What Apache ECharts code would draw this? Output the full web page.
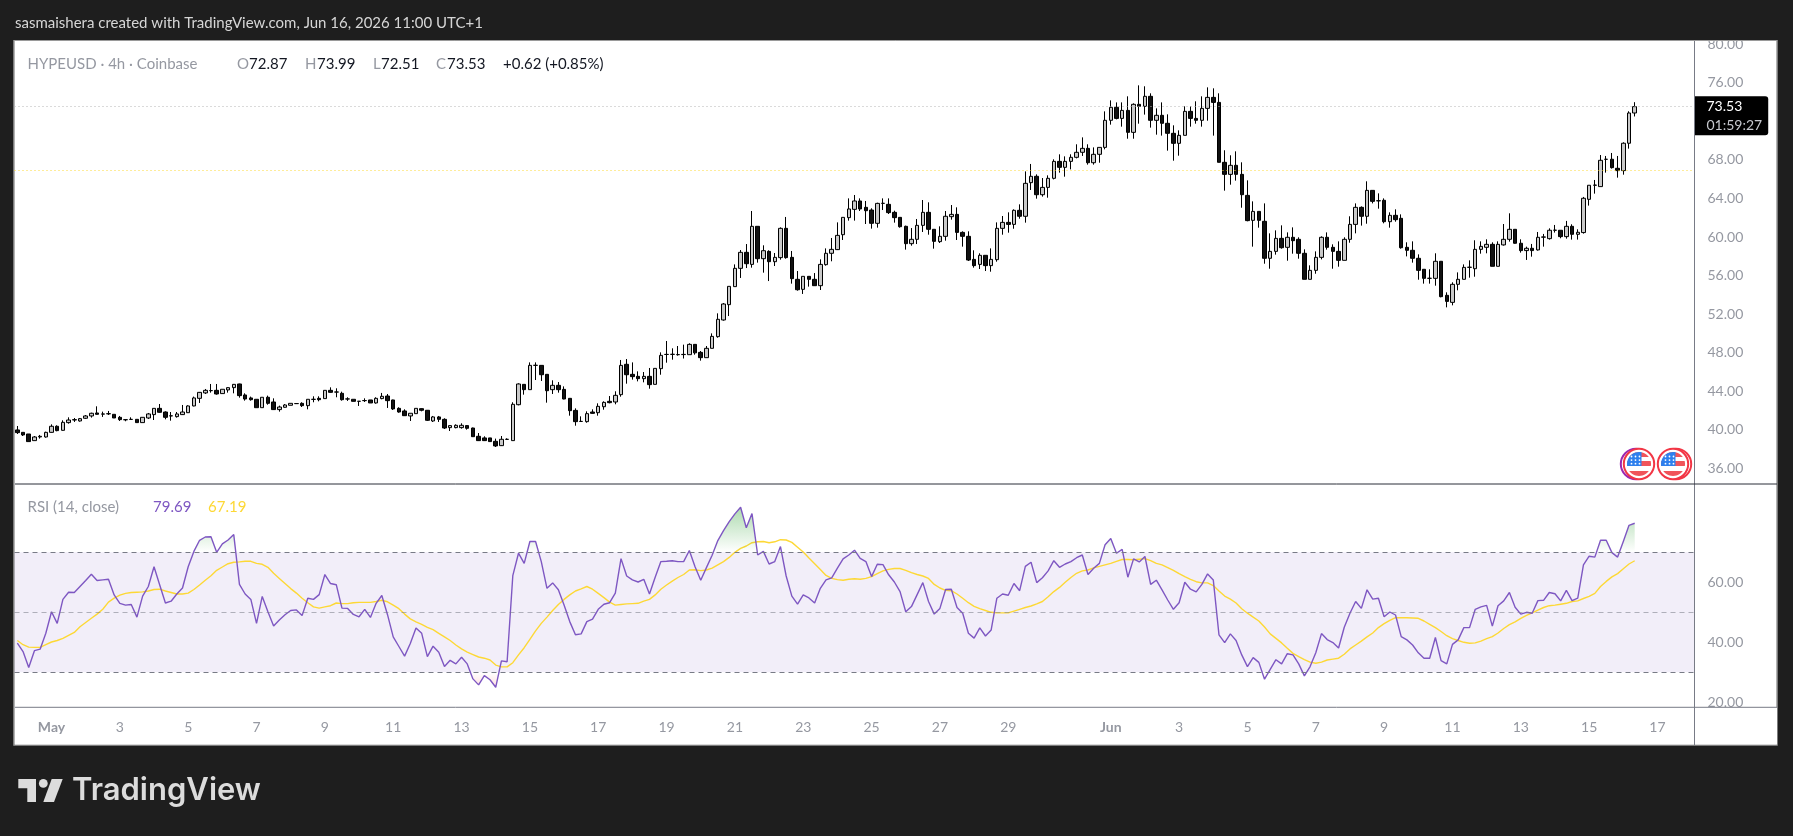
<!DOCTYPE html>
<html>
<head>
<meta charset="utf-8">
<title>HYPEUSD 4h</title>
<style>
html,body{margin:0;padding:0;background:#1e1e1e;}
#chart{width:1793px;height:836px;}
</style>
<script src="https://cdn.jsdelivr.net/npm/echarts@6/dist/echarts.min.js"></script>
</head>
<body>
<div id="chart"></div>
<script>
// HYPEUSD 4h candles, one entry per bar, oldest first.
const opens = [39.98,39.73,39.56,38.87,39.25,39.25,39.73,40.36,39.94,40.74,41.01,40.91,41.19,41.43,41.74,41.62,41.67,41.60,41.29,41.05,41.07,41.08,40.74,41.22,41.57,42.22,41.84,41.43,41.36,41.57,41.77,42.47,43.26,43.82,44.05,44.09,43.75,44.13,44.37,44.75,43.61,43.30,43.16,42.29,43.37,42.88,42.09,42.33,42.54,42.71,42.74,42.50,43.15,43.26,43.23,44.09,43.91,43.78,43.19,43.16,42.95,43.02,43.09,42.78,43.23,43.50,43.09,42.22,41.95,41.43,41.67,42.19,42.02,40.91,41.33,41.08,40.22,40.22,40.22,40.43,40.18,39.32,39.15,39.15,38.80,38.35,39.00,38.87,42.60,44.71,44.16,46.68,46.68,45.75,44.16,44.61,44.19,43.26,42.01,40.86,40.84,41.84,41.77,42.39,42.95,42.88,43.64,46.79,45.75,45.54,45.30,45.54,44.71,46.34,47.81,47.82,47.80,47.80,47.79,48.86,48.03,47.48,48.45,49.66,51.39,52.98,54.85,56.75,58.41,57.16,61.11,57.75,58.51,57.44,57.86,60.90,57.89,55.61,54.57,55.92,55.61,54.95,57.13,58.31,58.69,60.24,62.01,62.87,63.74,63.08,62.80,61.42,63.49,63.39,62.56,62.04,61.11,59.31,59.76,61.21,62.56,60.80,59.52,60.07,62.11,62.35,60.48,60.07,57.68,57.16,58.10,57.03,57.65,60.90,61.52,61.31,62.77,62.15,65.64,66.30,64.39,65.15,66.09,67.85,67.23,67.85,68.27,68.79,69.20,67.71,68.58,69.30,72.11,73.46,72.31,73.14,70.86,73.77,73.56,74.60,72.11,72.63,71.80,70.76,69.72,70.55,73.04,72.31,72.11,73.35,74.49,73.97,67.75,66.50,67.44,66.50,64.32,61.73,62.66,61.63,57.79,58.51,59.86,58.93,59.97,59.76,58.31,55.61,56.54,57.89,59.97,58.93,58.51,57.58,59.76,61.31,63.08,62.15,64.84,63.77,63.81,61.59,62.25,61.94,58.93,58.62,57.79,56.65,55.71,55.71,57.48,53.95,53.22,55.09,55.61,56.85,56.71,58.72,58.93,59.24,56.96,59.18,59.76,60.80,59.35,58.59,58.83,58.66,59.98,59.83,60.70,60.70,60.04,61.11,60.28,60.46,63.91,65.37,65.23,68.06,68.07,67.13,66.89,69.73,72.87];
const highs = [40.39,39.73,39.56,39.35,39.46,39.80,40.56,40.46,40.98,41.29,41.22,41.22,41.53,41.77,42.43,41.88,41.95,41.60,41.43,41.08,41.29,41.08,41.29,41.74,42.22,42.67,41.91,41.84,41.84,42.57,42.54,43.44,43.92,44.23,44.75,44.75,44.20,44.40,44.75,44.78,43.78,43.44,43.16,43.37,43.54,43.26,42.50,42.67,42.74,42.72,42.85,43.16,43.47,43.47,44.09,44.40,44.30,43.95,43.37,43.16,42.96,43.26,43.09,43.37,43.82,43.71,43.12,42.33,42.12,41.71,42.22,42.22,42.05,41.43,41.43,41.19,40.46,40.56,40.67,40.49,40.22,39.66,39.32,39.15,39.08,39.35,39.11,42.85,44.82,44.71,46.99,46.99,46.68,45.75,45.13,44.95,44.50,43.26,42.22,41.39,41.91,42.12,42.74,42.95,43.50,43.99,47.24,47.34,46.99,46.06,45.99,46.41,46.37,48.03,49.21,48.45,48.69,48.83,48.97,48.86,48.17,48.69,50.00,52.08,53.15,54.88,57.16,58.65,59.27,62.70,61.11,59.14,58.62,58.34,61.00,62.08,58.55,56.47,55.92,55.92,56.26,57.68,58.82,59.90,61.52,62.04,64.01,64.36,64.01,63.74,62.98,63.56,64.01,64.01,62.73,62.04,61.18,60.93,61.87,63.84,63.60,60.80,61.11,62.70,63.32,63.08,60.59,60.59,58.62,58.31,58.10,58.82,61.52,62.18,62.56,62.87,63.39,66.81,67.58,66.50,66.12,66.40,68.06,68.58,68.37,68.58,69.62,70.34,69.62,69.30,69.30,73.04,74.18,73.97,73.97,74.60,73.87,75.74,75.64,74.91,73.35,73.97,72.73,71.59,71.07,73.56,73.56,74.08,74.60,75.53,75.43,74.91,69.00,68.48,68.89,67.75,65.88,63.70,62.66,63.49,60.38,60.69,61.21,60.48,61.00,59.97,58.72,57.06,58.51,60.07,60.48,59.24,59.55,59.97,62.15,63.49,63.18,65.78,64.84,64.53,64.01,62.56,62.87,62.35,59.45,59.55,58.20,56.65,56.65,58.31,57.48,54.26,55.30,56.33,57.16,57.58,59.66,59.55,59.76,59.45,59.55,61.35,62.46,60.80,59.76,59.00,59.28,60.52,60.32,60.90,61.25,60.70,61.67,61.32,60.80,64.16,65.37,65.92,68.51,68.41,68.72,68.41,69.83,73.05,73.99];
const lows = [39.56,39.35,38.77,38.87,39.08,39.18,39.70,39.84,39.91,40.63,40.81,40.84,41.12,41.26,41.57,41.33,41.53,41.22,40.91,40.88,41.01,40.74,40.74,41.12,41.01,41.77,41.08,40.94,41.26,41.53,41.74,42.43,42.78,43.71,43.85,43.64,43.75,43.85,43.78,43.33,43.02,43.02,42.29,42.29,42.60,42.05,41.88,42.29,42.54,42.69,42.36,42.12,42.85,42.95,43.23,43.85,43.37,43.02,42.99,42.95,42.47,42.88,42.78,42.71,43.16,42.26,42.05,41.77,41.43,40.91,41.67,41.91,40.91,40.81,40.81,40.08,39.87,40.15,40.11,40.01,39.25,38.83,38.83,38.77,38.21,38.32,38.94,38.87,42.53,43.64,44.16,45.16,45.06,42.81,43.71,43.85,43.16,41.46,40.42,40.84,40.73,41.67,41.46,42.08,42.74,42.64,43.43,44.78,45.20,45.02,44.92,44.26,44.71,45.71,46.96,47.27,47.69,47.39,47.79,47.79,47.17,47.48,48.45,49.55,51.32,51.80,54.85,55.75,56.78,56.82,57.34,56.30,55.43,56.99,57.65,57.75,55.16,54.43,54.09,54.85,54.92,54.50,57.03,57.48,58.65,59.69,61.70,61.70,62.70,61.35,60.87,60.97,62.80,62.39,61.49,60.97,58.69,59.10,59.27,60.52,60.24,58.79,59.38,59.62,61.80,59.69,59.00,57.51,56.82,56.68,56.47,56.40,57.44,60.24,60.45,60.86,61.90,61.49,64.88,63.98,64.19,64.08,65.98,66.68,66.26,67.02,68.16,68.41,67.51,67.51,67.71,69.10,71.66,72.21,71.45,70.20,70.20,71.76,72.70,71.35,70.62,70.52,68.96,67.92,68.44,70.55,71.45,71.76,71.45,72.07,70.52,67.75,64.81,65.43,65.85,63.04,61.63,59.00,60.97,57.23,56.71,58.17,58.79,57.54,58.27,57.75,55.61,55.61,56.19,57.68,58.69,56.71,56.92,57.58,59.41,60.38,61.18,61.38,63.49,62.94,61.42,60.97,61.59,58.79,57.99,57.34,55.57,55.16,55.16,54.95,53.74,52.70,52.91,54.47,55.61,55.78,55.88,58.27,58.31,56.96,56.96,59.11,59.52,59.31,58.38,57.62,57.96,58.59,59.00,59.73,60.46,59.87,59.83,59.73,59.73,60.35,63.26,64.50,65.23,66.68,67.10,66.16,66.47,69.17,72.51];
const closes = [39.70,39.46,38.77,39.25,39.32,39.73,40.36,39.91,40.77,41.01,41.05,41.15,41.43,41.71,41.60,41.64,41.65,41.22,41.05,41.03,41.08,40.74,41.29,41.64,42.22,41.81,41.29,41.45,41.64,41.84,42.47,43.30,43.88,44.09,44.07,43.71,44.20,44.37,44.71,43.54,43.19,43.12,42.29,43.37,42.74,42.09,42.36,42.57,42.74,42.72,42.50,43.16,43.16,43.12,44.09,43.88,43.92,43.12,43.20,42.95,42.96,43.03,42.78,43.26,43.47,43.02,42.16,41.84,41.46,41.71,42.22,42.02,40.98,41.33,41.08,40.18,40.43,40.46,40.46,40.15,39.28,38.87,38.87,38.77,38.32,39.01,39.01,42.64,44.75,44.16,46.68,46.69,45.71,44.05,44.61,44.16,43.19,41.98,40.84,40.87,41.67,41.70,42.43,42.84,42.81,43.57,46.68,45.71,45.51,45.30,45.54,44.68,46.37,47.72,47.82,47.83,47.79,47.82,48.86,47.98,47.48,48.45,49.69,51.46,53.05,54.88,56.75,58.41,57.23,61.11,57.75,58.58,57.44,57.89,60.90,57.86,55.68,54.53,55.92,55.61,54.95,57.16,58.31,58.72,60.17,62.04,62.91,63.74,62.91,62.73,61.42,63.49,63.50,62.53,62.01,61.07,59.31,59.76,61.21,62.56,60.80,59.55,60.07,62.15,62.35,60.48,60.07,57.61,57.03,58.10,57.03,57.68,60.90,61.52,61.31,62.77,62.15,65.57,66.30,64.39,65.15,66.09,67.85,67.23,67.85,68.27,68.79,69.20,67.71,68.58,69.30,72.11,73.46,72.31,73.14,70.86,73.77,73.56,74.60,72.11,72.63,71.80,70.76,69.72,70.55,73.04,72.31,72.11,73.35,74.49,73.97,67.75,66.50,67.44,66.50,64.39,61.70,62.66,61.73,57.79,58.51,59.86,58.89,59.97,59.62,58.31,55.61,56.54,57.89,59.97,58.93,58.51,57.58,59.76,61.31,63.08,62.15,64.84,63.70,63.75,61.59,62.25,61.80,58.89,58.62,57.79,56.54,55.71,55.72,57.48,53.81,53.32,55.09,55.61,56.85,56.87,58.72,59.03,59.24,56.96,59.24,59.76,60.80,59.35,58.59,58.83,58.59,59.97,60.01,60.70,60.71,60.04,61.11,60.28,60.49,64.02,65.37,65.39,67.96,68.07,67.20,66.89,69.73,72.87,73.53];

// RSI (14, close) and its moving average, same bars as above.
const rsiValues = [39.7,36.9,31.6,37.2,37.7,43.0,50.2,46.3,54.3,56.7,56.6,58.6,60.6,62.7,60.6,60.8,61.0,55.8,53.0,52.4,52.6,48.4,55.4,58.6,65.2,59.1,53.1,53.7,56.1,58.1,65.2,70.3,74.0,75.1,75.2,70.0,72.8,74.1,75.9,59.3,56.1,54.3,46.3,55.3,50.2,45.4,47.4,49.2,50.6,50.8,48.9,54.7,54.3,55.9,62.6,59.6,59.2,51.4,51.3,49.3,48.5,51.0,48.3,53.0,55.6,49.2,41.8,38.6,35.4,39.6,44.8,43.0,35.2,38.7,36.7,31.9,34.0,32.8,35.0,32.8,27.8,25.8,28.9,27.5,25.0,33.8,33.5,62.2,69.7,66.3,73.6,73.6,66.9,58.0,59.8,57.5,52.4,46.9,42.5,42.8,46.9,47.7,51.0,52.7,53.2,56.4,67.9,62.1,60.8,60.1,61.0,56.1,61.7,66.9,67.0,67.2,66.9,66.9,70.6,65.2,60.7,64.9,69.0,73.9,77.2,80.2,82.8,85.0,78.2,82.9,69.1,70.3,66.1,66.9,71.9,62.1,55.4,52.7,55.8,54.8,53.1,58.0,60.8,61.5,64.7,67.8,69.1,70.7,68.0,66.9,61.9,66.0,65.9,62.5,60.1,56.9,50.2,51.9,55.9,59.9,53.6,49.4,51.3,57.6,57.7,51.6,49.7,43.0,41.4,44.8,42.1,44.1,54.7,56.1,55.7,59.6,57.2,65.3,66.7,59.9,61.5,63.8,67.2,65.0,66.1,66.9,68.2,69.1,62.6,64.7,66.3,72.5,74.6,69.7,71.0,61.7,67.8,66.8,68.6,59.3,60.7,57.5,54.1,51.0,53.2,60.0,57.7,56.8,59.3,62.8,60.8,42.5,39.9,42.8,40.6,35.8,31.9,34.9,33.3,27.7,31.0,34.2,32.8,36.2,35.8,32.8,28.8,31.9,36.5,42.9,40.9,39.9,38.1,45.0,49.7,53.6,51.3,57.5,54.4,54.7,48.5,50.1,49.1,41.9,40.8,39.1,36.5,34.7,34.7,41.6,33.9,32.8,39.3,40.8,44.9,44.9,51.0,51.8,52.3,45.4,52.2,53.8,56.6,51.7,49.4,50.0,49.7,53.9,54.0,56.6,56.2,53.8,57.3,53.9,54.7,65.8,68.7,68.4,74.0,74.0,69.9,68.4,73.6,79.0,79.69];
const rsiMaValues = [40.6,39.2,38.4,38.3,38.3,39.2,40.1,40.6,41.3,42.3,43.3,45.2,46.6,48.0,49.4,51.0,53.4,54.7,55.7,56.3,56.6,56.7,56.8,57.1,57.6,57.7,57.1,56.6,56.1,56.1,56.4,57.6,59.1,60.7,62.2,64.0,65.1,66.2,66.7,66.8,67.0,67.0,66.3,66.0,65.0,63.0,61.3,59.6,57.9,56.4,54.7,53.2,51.8,51.4,51.8,52.2,53.1,52.9,52.9,53.2,53.3,53.3,53.3,53.6,54.0,53.5,52.4,51.2,49.4,47.8,46.8,46.0,45.0,44.2,43.0,41.8,40.6,39.1,37.8,36.7,35.9,35.1,34.7,34.1,32.4,31.8,31.8,33.2,35.8,38.2,41.0,43.8,46.3,48.4,50.6,52.6,54.3,55.8,57.1,57.8,58.6,57.7,56.3,54.9,53.4,52.4,52.6,52.8,52.9,53.0,53.7,54.3,55.8,57.7,59.1,60.4,61.6,62.6,64.1,64.2,63.9,64.1,64.7,65.8,66.9,68.3,70.0,71.3,72.1,73.2,73.5,73.6,73.2,73.5,74.2,74.1,73.3,71.7,70.1,68.1,66.2,64.3,62.3,61.3,60.9,60.7,61.0,61.2,61.0,61.3,61.9,62.9,63.8,64.3,64.6,64.6,64.0,63.2,62.6,62.1,61.3,59.3,58.1,57.3,57.2,56.1,54.7,53.2,52.0,51.2,50.6,50.0,49.8,49.8,49.8,50.4,51.0,51.6,52.1,52.8,53.6,55.2,56.9,58.3,60.0,61.6,63.0,63.8,64.1,64.8,65.3,65.8,66.3,67.0,67.6,67.6,67.5,67.7,67.9,67.2,66.3,65.8,64.9,64.0,62.9,61.9,61.0,60.2,59.8,59.8,58.9,57.1,55.4,54.4,53.1,51.2,49.7,48.4,47.1,45.1,42.8,41.3,39.8,38.0,36.3,35.2,34.2,33.4,33.0,33.4,34.1,34.4,34.7,36.0,37.8,39.1,40.4,41.8,43.1,44.9,46.2,47.3,48.2,48.2,48.2,48.1,48.0,47.1,46.0,44.9,43.6,42.2,41.2,40.6,40.0,39.7,39.8,40.4,41.2,41.9,43.1,44.6,45.9,46.8,48.0,49.0,49.8,50.7,51.6,52.2,52.4,52.7,53.0,53.6,53.8,54.6,55.3,56.3,58.6,60.3,61.8,62.9,64.5,66.1,67.19];

// Axis ticks
const priceTicks = [36,40,44,48,52,56,60,64,68,72,76,80].filter(v => v !== 72);
const rsiTicks = [20,40,60];
const rsiLevels = [70,50,30];
const tickDates = ['05-01','05-03','05-05','05-07','05-09','05-11','05-13','05-15','05-17','05-19','05-21','05-23','05-25','05-27','05-29','06-01','06-03','06-05','06-07','06-09','06-11','06-13','06-15','06-17'];
const tickLabels = ['May','3','5','7','9','11','13','15','17','19','21','23','25','27','29','Jun','3','5','7','9','11','13','15','17'];

// Levels and readouts
const lastPrice = 73.53;
const yellowLevel = 66.95;
const lastRsi = 79.69;
const lastRsiMa = 67.19;
const countdown = '01:59:27';

// Category axis: 4h bars from Apr 30, with empty room to the right of the last bar.
const barCount = 295;
const categories = [];
for (let i = 0; i < barCount; i++) {
  const d = new Date(Date.UTC(2026, 3, 30, 1) + i * 4 * 3600 * 1000);
  categories.push(d.toISOString().slice(5, 16).replace('T', ' '));
}
const candles = opens.map((o, i) => [o, closes[i], lows[i], highs[i]]);

const FONT = 'Lato, "Noto Sans", sans-serif';
const GREY = '#9598a1';
const PURPLE = '#7e57c2';
const YELLOW = '#fdd835';

// Pane geometry
const plotLeft = 14.5, plotRight = 1694.5, panelRight = 1777;
const priceTop = 41, paneSplit = 484, rsiBottom = 707.3, panelBottom = 745;
const priceMin = 34.37, priceMax = 80.34, rsiMin = 18.33, rsiMax = 92.77;
const rsiY = v => rsiBottom - (v - rsiMin) / (rsiMax - rsiMin) * (rsiBottom - paneSplit);

const chart = echarts.init(document.getElementById('chart'));

// Fill only beyond the 70 and 30 levels: fades towards each level, clear between them.
const obFill = new echarts.graphic.LinearGradient(0, rsiY(88), 0, rsiY(22), [
  {offset: 0, color: 'rgba(76,175,80,0.55)'},
  {offset: (rsiY(70) - rsiY(88)) / (rsiY(22) - rsiY(88)), color: 'rgba(76,175,80,0)'},
  {offset: (rsiY(30) - rsiY(88)) / (rsiY(22) - rsiY(88)), color: 'rgba(255,82,82,0)'},
  {offset: 1, color: 'rgba(255,82,82,0.3)'}
], true);

function txt(x, y, text, fill, size, extra) {
  return {type: 'text', z: 30, x, y, style: Object.assign({text, fill, font: (size || 14) + 'px ' + FONT, verticalAlign: 'middle'}, extra || {})};
}

// Header legend pieces
const legendBits = [
  [27.5, 'HYPEUSD · 4h · Coinbase', GREY], [237, 'O', GREY], [249, '72.87', '#131722'],
  [305, 'H', GREY], [317, '73.99', '#131722'], [373, 'L', GREY], [381, '72.51', '#131722'],
  [436, 'C', GREY], [447, '73.53', '#131722'], [503, '+0.62 (+0.85%)', '#131722']
];
const rsiBits = [
  [27.5, 'RSI (14, close)', GREY], [153, String(lastRsi), PURPLE], [208, String(lastRsiMa), YELLOW]
];

// Round event badge with a small US flag
function stripe(cx, cy, r, y1, y2, x0) {
  const left = [], right = [];
  for (let y = y1; y <= y2 + 0.01; y += 0.5) {
    const dy = y - cy, w = Math.sqrt(Math.max(0, r * r - dy * dy));
    left.push([x0 === undefined ? cx - w : Math.max(cx - w, x0), y]);
    right.unshift([cx + w, y]);
  }
  return left.concat(right);
}
function poly(points, fill) {
  return {type: 'polygon', z: 20, shape: {points}, style: {fill}};
}
function badge(cx, cy, backColor, backDx) {
  const items = [];
  items.push({type: 'circle', z: 19, shape: {cx: cx + backDx, cy, r: 15.2}, style: {fill: '#fff', stroke: backColor, lineWidth: 2}});
  items.push({type: 'circle', z: 19, shape: {cx, cy, r: 15.2}, style: {fill: '#fff', stroke: '#f23645', lineWidth: 2}});
  const r = 12;
  items.push(poly(stripe(cx, cy, r, cy - 12, cy - 7), '#f0545a'));
  items.push(poly(stripe(cx, cy, r, cy - 3, cy + 2), '#f0545a'));
  items.push(poly(stripe(cx, cy, r, cy + 7, cy + 12), '#f0545a'));
  const left = [], cantonRight = cx + 2.5;
  for (let y = cy - 12; y <= cy + 2.01; y += 0.5) {
    const dy = y - cy, w = Math.sqrt(Math.max(0, r * r - dy * dy));
    left.push([cx - w, y]);
  }
  items.push(poly(left.concat([[cantonRight, cy + 2], [cantonRight, cy - 12]]), '#2f80ed'));
  for (let a = 0; a < 3; a++) {
    for (let b = 0; b < 3; b++) {
      items.push({type: 'circle', z: 21, shape: {cx: cx - 7.5 + b * 4, cy: cy - 7.5 + a * 3.6, r: 0.9}, style: {fill: '#fff'}});
    }
  }
  return items;
}

const graphicItems = [
  // Panel, frame and separators
  {type: 'rect', z: -1, shape: {x: 14, y: 40, width: panelRight - 14, height: panelBottom - 40}, style: {fill: '#fff', stroke: '#9a9a9a', lineWidth: 1.5}},
  {type: 'rect', z: 5, shape: {x: 0, y: 0, width: 1793, height: 40}, style: {fill: '#1e1e1e'}},
  {type: 'rect', z: 5, shape: {x: 15, y: rsiBottom, width: panelRight - 15, height: panelBottom - rsiBottom - 0.5}, style: {fill: '#fff'}},
  {type: 'line', z: 6, shape: {x1: 14, y1: 40.5, x2: panelRight, y2: 40.5}, style: {stroke: '#9a9a9a', lineWidth: 1}},
  {type: 'line', z: 6, shape: {x1: plotRight, y1: 41, x2: plotRight, y2: panelBottom}, style: {stroke: '#787b86', lineWidth: 1}},
  {type: 'line', z: 6, shape: {x1: 15, y1: paneSplit, x2: panelRight, y2: paneSplit}, style: {stroke: '#2a2e39', lineWidth: 1}},
  {type: 'line', z: 6, shape: {x1: 15, y1: rsiBottom, x2: panelRight, y2: rsiBottom}, style: {stroke: '#787b86', lineWidth: 1}},
  // Snapshot caption
  txt(15, 23.5, 'sasmaishera created with TradingView.com, Jun 16, 2026 11:00 UTC+1', '#d6d6d6', 15, {font: '15px ' + FONT}),
  // Wordmark
  poly([[18.3, 779], [36, 779], [36, 802], [27.3, 802], [27.3, 788.3], [18.3, 788.3]], '#dcdcdc'),
  {type: 'circle', z: 20, shape: {cx: 43.3, cy: 783.4, r: 4.4}, style: {fill: '#dcdcdc'}},
  poly([[51.7, 779], [62.7, 779], [54, 802], [43.3, 802]], '#dcdcdc'),
  txt(72, 791, 'TradingView', '#dcdcdc', 30, {font: '600 31px Inter, ' + FONT}),
];
legendBits.forEach(b => graphicItems.push(txt(b[0], 64.5, b[1], b[2], 15)));
rsiBits.forEach(b => graphicItems.push(txt(b[0], 507.5, b[1], b[2], 15)));
graphicItems.push(...badge(1639, 464, '#9c27b0', -3));
graphicItems.push(...badge(1673, 464, '#f23645', 3));

// Value tag drawn at a level on the right-hand scale
function tag(value, bg, fg) {
  return {
    yAxis: value, symbol: 'none',
    lineStyle: {width: 0, opacity: 0},
    label: {
      show: true, position: 'end', distance: 0, formatter: value.toFixed(2),
      backgroundColor: bg, color: fg, fontFamily: FONT, fontSize: 14,
      padding: [4, 6, 3, 12], borderRadius: [0, 3, 3, 0]
    }
  };
}

chart.setOption({
  animation: false,
  backgroundColor: 'transparent',
  textStyle: {fontFamily: FONT},
  graphic: {elements: graphicItems},
  grid: [
    {left: plotLeft, top: priceTop, width: plotRight - plotLeft, height: paneSplit - priceTop},
    {left: plotLeft, top: paneSplit, width: plotRight - plotLeft, height: rsiBottom - paneSplit}
  ],
  xAxis: [
    {type: 'category', gridIndex: 0, data: categories, axisLine: {show: false}, axisTick: {show: false}, axisLabel: {show: false}, splitLine: {show: false}},
    {
      type: 'category', gridIndex: 1, data: categories, z: 10,
      axisLine: {show: false}, axisTick: {show: false}, splitLine: {show: false},
      axisLabel: {
        show: true, margin: 13, fontFamily: FONT, fontSize: 14, color: GREY,
        interval: (i, v) => tickDates.indexOf(v.slice(0, 5)) >= 0 && v.slice(6) === '01:00',
        formatter: v => {
          const t = tickLabels[tickDates.indexOf(v.slice(0, 5))];
          return t === 'May' || t === 'Jun' ? '{m|' + t + '}' : t;
        },
        rich: {m: {fontFamily: FONT, fontSize: 14, fontWeight: 700, color: GREY}}
      }
    }
  ],
  yAxis: [
    {
      type: 'value', gridIndex: 0, position: 'right', min: priceMin, max: priceMax, scale: true,
      axisLine: {show: false}, axisTick: {show: false}, splitLine: {show: false},
      axisLabel: {margin: 13, fontFamily: FONT, fontSize: 14, color: GREY, formatter: v => v.toFixed(2), customValues: priceTicks}
    },
    {
      type: 'value', gridIndex: 1, position: 'right', min: rsiMin, max: rsiMax, scale: true,
      axisLine: {show: false}, axisTick: {show: false}, splitLine: {show: false},
      axisLabel: {margin: 13, fontFamily: FONT, fontSize: 14, color: GREY, formatter: v => v.toFixed(2), customValues: rsiTicks}
    }
  ],
  series: [
    {
      name: 'HYPEUSD', type: 'candlestick', xAxisIndex: 0, yAxisIndex: 0, data: candles, barWidth: 4,
      itemStyle: {color: '#c9c9c9', color0: '#111', borderColor: '#000', borderColor0: '#000', borderWidth: 1},
      markLine: {
        silent: true, symbol: 'none', animation: false,
        data: [
          {yAxis: yellowLevel, lineStyle: {color: YELLOW, type: [1, 3], width: 1}, label: {show: false}},
          {
            yAxis: lastPrice, lineStyle: {color: '#b5b5b5', type: [1, 3], width: 1},
            label: {
              show: true, position: 'end', distance: 0, offset: [0, 9],
              formatter: '{p|' + lastPrice.toFixed(2) + '}\n{c|' + countdown + '}',
              backgroundColor: '#000', padding: [1, 6, 0, 12], borderRadius: [0, 3, 3, 0],
              rich: {
                p: {color: '#fff', fontFamily: FONT, fontSize: 14, lineHeight: 19},
                c: {color: '#c8cad0', fontFamily: FONT, fontSize: 14, lineHeight: 19}
              }
            }
          }
        ]
      }
    },
    {
      name: 'RSI', type: 'line', xAxisIndex: 1, yAxisIndex: 1, data: rsiValues, z: 4,
      symbol: 'none', smooth: false, lineStyle: {color: PURPLE, width: 1.4},
      areaStyle: {origin: 70, color: obFill, opacity: 1},
      markLine: {silent: true, symbol: 'none', animation: false, data: [tag(lastRsi, PURPLE, '#fff')]}
    },
    {
      name: 'RSI MA', type: 'line', xAxisIndex: 1, yAxisIndex: 1, data: rsiMaValues, z: 3,
      symbol: 'none', smooth: false, lineStyle: {color: YELLOW, width: 1.4},
      markArea: {silent: true, itemStyle: {color: 'rgba(126,87,194,0.1)'}, data: [[{yAxis: rsiLevels[2]}, {yAxis: rsiLevels[0]}]]},
      markLine: {
        silent: true, symbol: 'none', animation: false,
        data: rsiLevels.map(v => ({
          yAxis: v, label: {show: false},
          lineStyle: {color: v === 50 ? 'rgba(120,123,134,0.55)' : '#787b86', type: [5, 4], width: 1}
        })).concat([tag(lastRsiMa, YELLOW, '#131722')])
      }
    }
  ]
});
</script>
</body>
</html>
